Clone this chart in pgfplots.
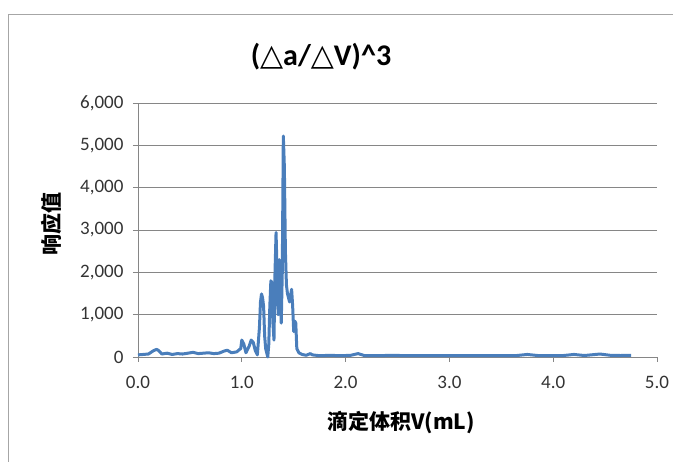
\documentclass[border=0pt]{standalone}
\usepackage{pgfplots}
\pgfplotsset{compat=1.18}
\usepackage{fontspec}
\setmainfont{Carlito}
\newfontfamily\cjk{Noto Sans CJK SC}
\newfontfamily\dv{DejaVu Sans}
\definecolor{xlblue}{RGB}{74,126,187}
\definecolor{gridgray}{RGB}{134,134,134}
\begin{document}
\begin{tikzpicture}[x=1pt,y=1pt]
\useasboundingbox (0pt,0pt) rectangle (673pt,462pt);
\draw[gray!70, line width=0.8pt] (8pt,-5pt) -- (8pt,448pt) -- (680pt,448pt);
\node[font=\bfseries\fontsize{30}{32}\selectfont] at (321pt,405pt) {({\dv △}a/{\dv △}V)\^{}3};
\node[font=\cjk\bfseries\fontsize{21}{23}\selectfont] at (401pt,39pt) {滴定体积V(mL)};
\node[font=\cjk\bfseries\fontsize{21}{23}\selectfont, rotate=90] at (51pt,238pt) {响应值};
\begin{axis}[
  at={(138pt,105pt)}, anchor=south west,
  scale only axis, width=519pt, height=254pt,
  xmin=0, xmax=5, ymin=0, ymax=6000,
  xtick={0,1,2,3,4,5}, ytick={0,1000,2000,3000,4000,5000,6000},
  /pgf/number format/assume math mode=true,
  xticklabel style={yshift=-11pt, /pgf/number format/.cd, fixed, fixed zerofill, precision=1},
  yticklabel style={xshift=-6pt, /pgf/number format/.cd, fixed, 1000 sep={,}},
  ticklabel style={font=\fontsize{19}{20}\selectfont, text=black!80},
  ymajorgrids, grid style={gridgray, line width=0.8pt},
  axis x line*=bottom, axis y line*=left,
  axis line style={gridgray, line width=0.8pt, -},
  tick style={gridgray, line width=0.8pt},
  tick align=outside, major tick length=5pt,
  clip=false,
]
\addplot[xlblue, line width=3pt, sharp plot, line join=round] coordinates {
(0.00,50) (0.05,60) (0.10,70) (0.15,150) (0.18,180) (0.20,150) (0.23,70)
(0.28,90) (0.33,60) (0.38,80) (0.43,70) (0.48,90) (0.53,110) (0.58,80)
(0.63,90) (0.68,100) (0.73,80) (0.78,90) (0.83,140) (0.86,160) (0.90,100)
(0.95,120) (0.99,200) (1.00,400) (1.02,300) (1.04,100) (1.07,250) (1.09,400)
(1.11,350) (1.13,150) (1.15,50) (1.17,700) (1.18,1300) (1.19,1490) (1.20,1400)
(1.21,1200) (1.22,500) (1.23,200) (1.24,100) (1.25,0) (1.26,300) (1.27,1200)
(1.28,1800) (1.29,1750) (1.30,800) (1.31,400) (1.32,2000) (1.33,2940) (1.34,2000)
(1.35,1000) (1.36,2300) (1.37,1500) (1.38,800) (1.39,2000) (1.40,5220) (1.41,4500)
(1.42,2500) (1.43,1700) (1.44,1500) (1.46,1300) (1.48,1600) (1.49,1200) (1.50,600)
(1.51,850) (1.52,800) (1.53,200) (1.55,100) (1.58,60) (1.62,40) (1.66,80)
(1.68,50) (1.75,30) (1.85,40) (1.95,30) (2.05,40) (2.12,80) (2.18,35)
(2.30,30) (2.45,40) (2.60,30) (2.75,35) (2.90,30) (3.05,35) (3.20,30)
(3.35,35) (3.50,30) (3.65,35) (3.75,60) (3.85,35) (4.00,30) (4.10,35)
(4.20,60) (4.30,35) (4.45,70) (4.55,40) (4.65,35) (4.75,40)
};
\end{axis}
\end{tikzpicture}
\end{document}
